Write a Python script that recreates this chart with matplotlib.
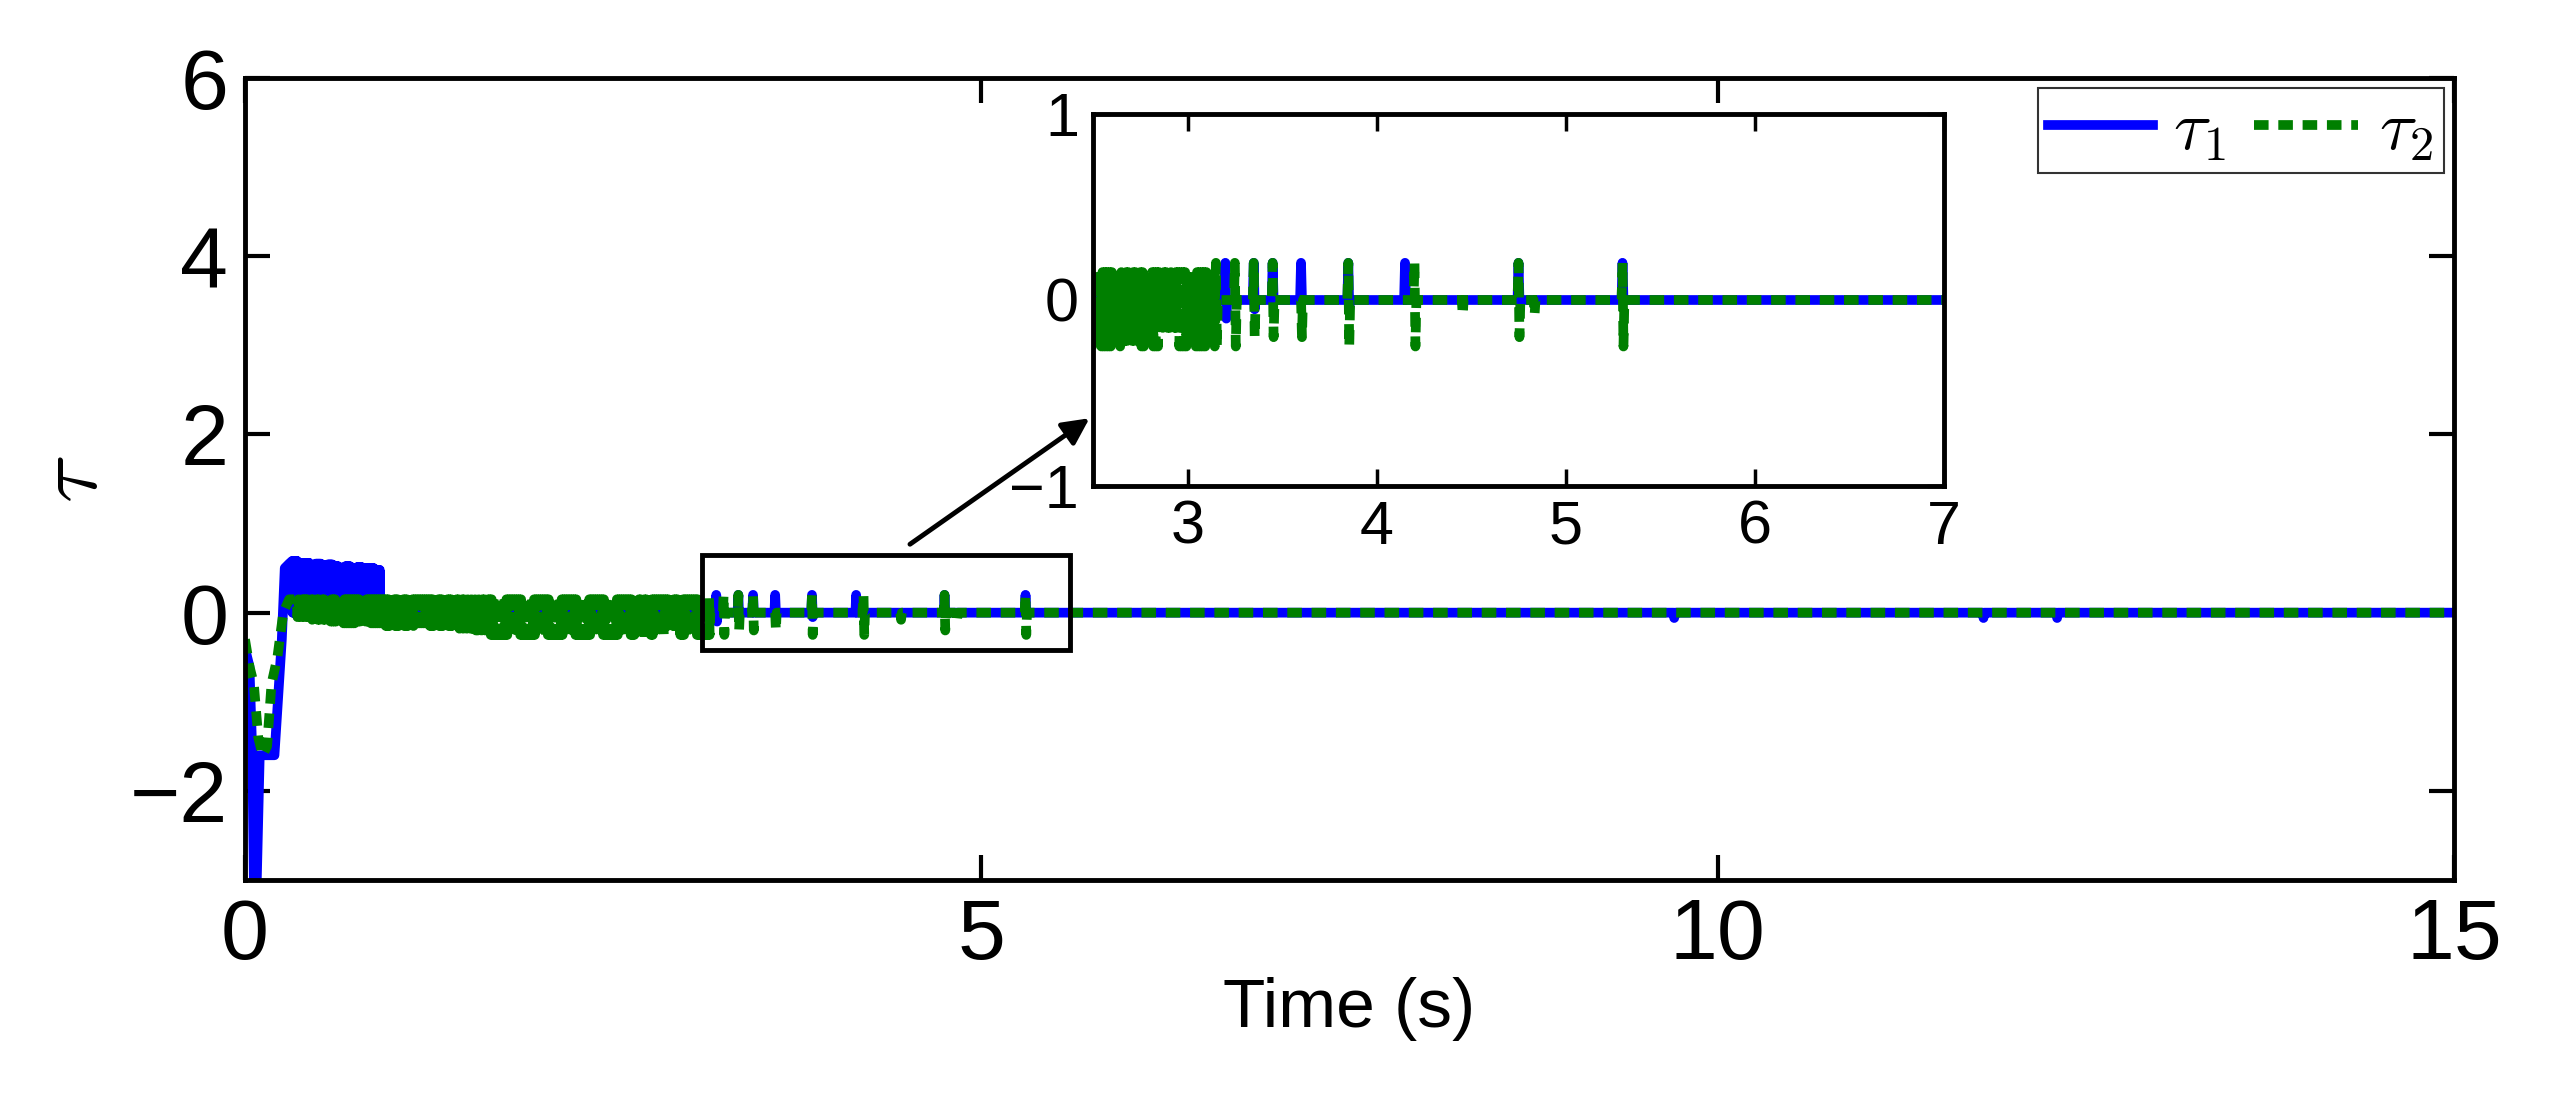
import numpy as np
import matplotlib.pyplot as plt

plt.rcParams["font.family"] = ["Liberation Sans", "DejaVu Sans"]
plt.rcParams["mathtext.fontset"] = "cm"

# ---- data ----
# start-up transient (time, value)
tau1_start_t = [0.0, 0.03, 0.05, 0.06, 0.08, 0.10, 0.11, 0.20, 0.25, 0.27, 0.30]
tau1_start_v = [-0.4, -0.6, -1.6, -3.0, -3.0, -1.6, -1.6, -1.6, -0.3, 0.5, 0.55]
tau2_start_t = [0.0, 0.03, 0.06, 0.09, 0.12, 0.15, 0.18, 0.22, 0.26, 0.30]
tau2_start_v = [-0.3, -0.6, -0.8, -1.4, -1.6, -1.5, -0.8, -0.5, 0.0, 0.15]

# tau1 blue chatter band 0.3-0.9 s
tau1_band_t = [0.32, 0.36, 0.40, 0.44, 0.48, 0.52, 0.56, 0.60, 0.64, 0.68, 0.72, 0.76, 0.80, 0.84, 0.88]
tau1_band_hi = [0.58, 0.55, 0.56, 0.52, 0.55, 0.53, 0.54, 0.52, 0.50, 0.52, 0.50, 0.51, 0.50, 0.50, 0.48]
tau1_band_lo = [0.0, 0.02, 0.0, 0.03, 0.0, 0.02, 0.0, 0.03, 0.0, 0.02, 0.0, 0.02, 0.0, 0.02, 0.0]

# tau2 green chatter band 0.3-3.1 s
tau2_band_t = [0.35, 0.45, 0.55, 0.65, 0.75, 0.85, 0.95, 1.05, 1.15, 1.25, 1.35, 1.45, 1.55, 1.65,
               1.75, 1.85, 1.95, 2.05, 2.15, 2.25, 2.35, 2.45, 2.55, 2.65, 2.75, 2.85, 2.95, 3.05]
tau2_band_hi = [0.15, 0.15, 0.15, 0.15, 0.15, 0.15, 0.15, 0.15, 0.15, 0.15, 0.15, 0.15, 0.15, 0.15,
                0.15, 0.15, 0.15, 0.15, 0.15, 0.15, 0.15, 0.15, 0.15, 0.15, 0.15, 0.15, 0.15, 0.15]
tau2_band_lo = [-0.05, -0.08, -0.10, -0.12, -0.10, -0.12, -0.15, -0.15, -0.12, -0.15, -0.15, -0.18, -0.20, -0.25,
                -0.25, -0.25, -0.25, -0.25, -0.25, -0.25, -0.25, -0.25, -0.25, -0.22, -0.25, -0.15, -0.25, -0.25]

# isolated spikes after 3 s
tau1_spk_t = [3.2, 3.35, 3.45, 3.6, 3.85, 4.15, 4.75, 5.3, 9.7, 11.8, 12.3]
tau1_spk_hi = [0.2, 0.2, 0.2, 0.2, 0.2, 0.2, 0.2, 0.2, 0.0, 0.0, 0.0]
tau1_spk_lo = [-0.1, -0.05, 0.0, 0.0, -0.05, 0.0, 0.0, 0.0, -0.06, -0.06, -0.06]
tau2_spk_t = [3.15, 3.25, 3.35, 3.45, 3.6, 3.85, 4.2, 4.45, 4.75, 4.83, 5.3]
tau2_spk_hi = [0.2, 0.2, 0.2, 0.2, 0.0, 0.2, 0.2, 0.0, 0.2, 0.0, 0.2]
tau2_spk_lo = [-0.25, -0.25, -0.2, -0.2, -0.2, -0.25, -0.25, -0.08, -0.2, -0.08, -0.25]

t_end = 15.0


def build(start_t, start_v, band_t, band_hi, band_lo, spk_t, spk_hi, spk_lo, step):
    xs, ys = list(start_t), list(start_v)
    for t, hi, lo in zip(band_t, band_hi, band_lo):
        # several chatter cycles inside each band slot
        for k in range(8):
            xs += [t + k * step, t + k * step + step / 2]
            ys += [hi, lo]
    xs.append(xs[-1] + 0.005)
    ys.append(0.0)
    for t, hi, lo in zip(spk_t, spk_hi, spk_lo):
        xs += [t - 0.005, t, t + 0.005, t + 0.01]
        ys += [0.0, hi, lo, 0.0]
    xs.append(t_end)
    ys.append(0.0)
    return np.array(xs), np.array(ys)


x1, y1 = build(tau1_start_t, tau1_start_v, tau1_band_t, tau1_band_hi, tau1_band_lo,
               tau1_spk_t, tau1_spk_hi, tau1_spk_lo, 0.005)
x2, y2 = build(tau2_start_t, tau2_start_v, tau2_band_t, tau2_band_hi, tau2_band_lo,
               tau2_spk_t, tau2_spk_hi, tau2_spk_lo, 0.0125)

BLUE = "#0000ff"
GREEN = "#007f00"
LW = 7
DASH = (0, (1.5, 1.0))

fig = plt.figure(figsize=(25.57, 11.17), dpi=100)
ax = fig.add_axes([245 / 2557, 1 - 880 / 1117, (2454 - 245) / 2557, (880 - 78) / 1117])
ax.plot(x1, y1, color=BLUE, lw=LW, label=r"$\tau_1$")
ax.plot(x2, y2, color=GREEN, lw=LW, ls=DASH, label=r"$\tau_2$")
ax.set_xlim(0, 15)
ax.set_ylim(-3, 6)
ax.set_xticks([0, 5, 10, 15])
ax.set_yticks([-2, 0, 2, 4, 6])
ax.set_yticklabels(["\u22122", "0", "2", "4", "6"])
ax.tick_params(labelsize=62, direction="in", length=18, width=3, top=True, right=True, pad=12)
for s in ax.spines.values():
    s.set_linewidth(3.5)
ax.set_xlabel("Time (s)", fontsize=50, labelpad=0)
ax.set_ylabel(r"$\tau$", fontsize=64, labelpad=10)
leg = ax.legend(loc="upper right", ncol=2, fontsize=50, fancybox=False, edgecolor="black",
                borderaxespad=0.15, handlelength=1.5, columnspacing=0.4, handletextpad=0.3,
                borderpad=0.15)
leg.get_frame().set_linewidth(1.5)

# zoom box and arrow
ax.add_patch(plt.Rectangle((3.1, -0.42), 2.5, 1.07, fill=False, lw=3.5, color="black", zorder=5))
ax.annotate("", xy=(5.75, 2.2), xytext=(4.5, 0.75),
            arrowprops=dict(arrowstyle="-|>", lw=3.5, color="black", mutation_scale=40))

# inset
ins = fig.add_axes([1093 / 2557, 1 - 486 / 1117, (1944 - 1093) / 2557, (486 - 114) / 1117])
ins.plot(x1, y1, color=BLUE, lw=LW)
ins.plot(x2, y2, color=GREEN, lw=LW, ls=DASH)
ins.set_xlim(2.5, 7)
ins.set_ylim(-1, 1)
ins.set_xticks([3, 4, 5, 6, 7])
ins.set_yticks([-1, 0, 1])
ins.set_yticklabels(["\u22121", "0", "1"])
ins.tick_params(labelsize=44, direction="in", length=12, width=2.5, top=True, right=True, pad=10)
for s in ins.spines.values():
    s.set_linewidth(3.5)

fig.savefig("out.png", dpi=100)
